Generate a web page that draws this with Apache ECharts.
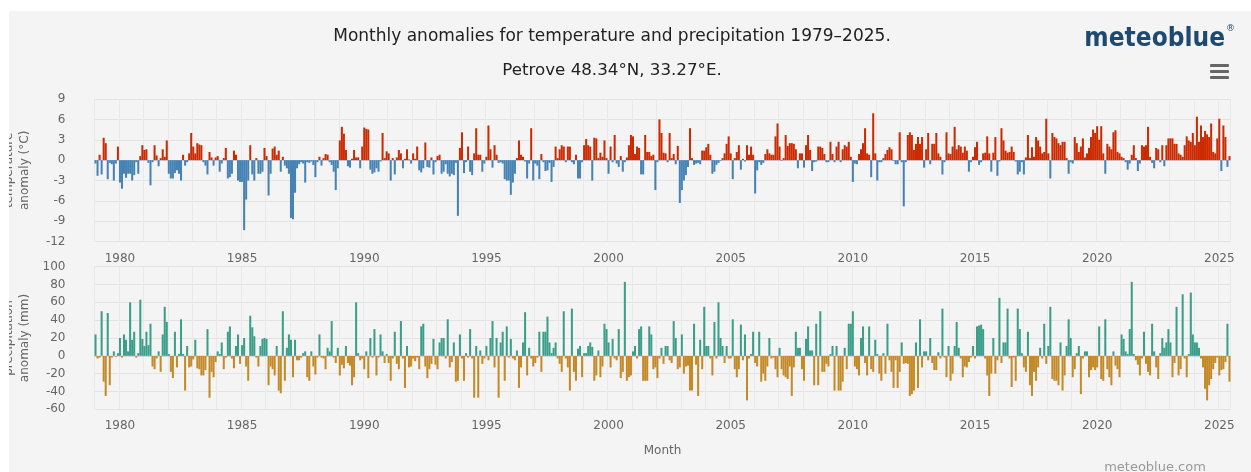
<!DOCTYPE html>
<html lang="en">
<head>
<meta charset="utf-8">
<title>Monthly anomalies for temperature and precipitation 1979-2025</title>
<script src="https://cdn.jsdelivr.net/npm/echarts@6.0.0/dist/echarts.min.js"></script>
<style>
  body { margin: 0; background: #ffffff; }
  #chart { position: absolute; left: 9px; top: 11px; width: 1242px; height: 461px; background: #f4f4f4; overflow: hidden; }
</style>
</head>
<body>
<div id="chart"></div>
<script type="text/javascript">
const startYear = 1979;

// monthly temperature anomaly (°C), one row per year
const tempAnomaly = [
  -0.5,-2.3,0.8,-2.1,3.3,2.5,-2.8,-0.4,-0.6,-3.0,-0.5,2.0,
  -3.3,-4.2,-2.0,-2.6,-2.0,-2.0,-3.0,-2.2,-0.3,-2.0,0.6,2.2,
  1.5,1.6,-0.4,-3.7,-0.3,2.2,0.7,-0.9,0.3,1.6,0.5,2.9,
  -2.0,-2.7,-2.7,-1.9,-1.5,-2.0,-3.0,0.8,-0.8,-0.3,1.0,4.0,
  2.0,1.0,2.5,2.3,2.2,-0.3,-0.8,-2.1,1.2,0.4,-0.8,0.4,
  0.6,-1.7,-0.5,0.3,1.8,-2.7,-2.5,-2.0,1.4,0.8,-3.0,-3.2,
  -3.2,-10.3,-5.8,-3.0,2.2,-2.1,-3.0,0.3,-2.0,-2.0,-1.7,1.8,
  0.6,-5.2,-2.0,1.7,2.0,0.8,1.4,-1.7,0.5,-0.8,-1.2,-2.0,
  -8.5,-8.7,-4.8,-1.2,-0.6,-0.3,-0.5,-3.3,-0.3,-0.4,-0.2,-0.7,
  -2.5,-0.3,0.5,-0.8,0.3,0.9,0.8,-0.3,-0.7,-1.7,-4.4,-1.2,
  2.9,4.9,3.9,1.5,-0.9,-1.1,0.2,1.5,0.4,0.4,-1.2,2.0,
  4.8,4.6,4.5,-1.4,-2.0,-1.8,-1.2,-1.7,-0.2,4.0,0.3,1.3,
  1.0,-3.0,0.3,-2.1,0.4,1.5,1.0,-1.2,0.2,1.6,0.1,-0.5,
  1.0,0.2,2.0,-1.5,-1.8,-1.2,2.6,-1.0,-1.1,0.4,-2.1,-0.3,
  0.6,0.8,-2.0,-1.7,-0.6,-2.0,-2.4,-2.0,-2.2,-0.4,-8.2,1.8,
  4.1,-1.9,-0.3,2.0,-1.7,-2.2,1.0,4.7,0.8,0.8,-1.7,-0.5,
  0.5,5.1,1.6,-1.1,2.2,0.8,-0.4,-0.3,-0.5,-2.8,-3.0,-3.0,
  -5.1,-3.3,-2.0,0.3,2.9,0.8,0.5,-0.2,-2.7,-0.5,4.7,-3.0,
  -0.5,-0.8,-2.8,0.9,-0.3,-1.6,-1.5,-0.4,-3.2,-1.0,2.0,0.3,
  1.6,2.2,2.0,-0.3,2.0,2.0,-0.3,-0.6,0.8,-2.7,-2.7,-0.3,
  2.2,3.1,2.2,2.0,-3.0,3.3,3.2,0.3,1.1,0.5,2.9,0.3,
  -2.0,2.0,-0.3,3.7,-0.5,-1.0,0.6,-1.7,-0.3,0.4,2.2,3.7,
  3.5,0.9,2.0,1.8,-2.1,-2.1,3.7,1.2,1.2,0.6,0.8,-4.4,
  -0.3,6.0,4.0,1.1,1.0,-0.3,4.0,0.3,0.9,-0.6,2.1,-6.3,
  -4.4,-3.0,-2.2,-1.0,4.7,0.3,-0.7,-0.5,-0.4,-0.6,1.4,1.4,
  1.9,2.4,0.8,-2.0,-1.7,-0.7,-0.4,-0.1,0.3,1.0,2.4,3.5,
  1.0,-2.8,0.3,1.2,2.2,-1.4,0.2,-0.2,2.2,0.8,2.0,0.8,
  -4.9,-1.5,-0.3,-0.7,-0.4,0.9,1.6,1.0,0.8,0.8,3.5,5.4,
  2.0,-0.1,0.3,3.7,2.1,2.5,2.5,2.4,1.6,-1.2,1.0,1.0,
  -1.1,2.2,3.7,1.5,-1.6,-0.3,-0.2,2.0,2.0,1.8,0.9,-0.3,
  -0.3,2.7,0.9,-0.3,2.0,2.7,-0.3,1.6,2.2,2.0,2.7,0.5,
  -3.2,-0.5,-0.6,0.9,1.6,2.5,4.7,1.0,0.8,-2.5,6.9,1.0,
  -3.0,-0.3,-0.3,0.3,0.9,1.5,1.9,1.6,-0.1,-0.6,-0.6,4.1,
  -0.3,-6.8,-0.3,3.7,4.1,3.7,1.5,2.4,3.4,2.4,3.4,-1.1,
  1.6,4.0,-0.6,2.4,2.4,4.0,1.0,0.5,-2.1,-0.3,4.1,1.0,
  0.9,2.0,4.9,1.6,2.2,2.0,1.1,2.0,1.4,-1.7,-0.3,0.5,
  1.9,2.7,-0.7,-0.3,1.0,1.1,3.5,1.0,-1.7,1.1,3.4,-2.3,
  -0.2,4.7,2.9,1.4,1.1,1.2,2.0,1.2,-0.2,-2.1,-1.7,-0.3,
  -2.1,0.4,3.7,0.3,1.9,0.5,3.4,2.9,2.0,1.0,1.2,6.1,
  1.0,-2.7,4.0,3.4,3.2,2.5,2.2,2.7,2.7,0.3,-2.0,-0.3,
  -0.5,3.4,2.5,1.2,2.0,3.2,0.4,1.0,1.8,3.4,4.5,4.0,
  5.0,3.0,5.0,1.0,-2.0,2.4,2.0,1.6,4.1,4.4,1.2,1.0,
  0.5,0.3,-0.3,-1.4,-0.5,0.8,2.2,0.3,-1.6,-0.5,2.2,2.0,
  2.2,4.9,0.5,-0.4,-1.2,1.8,1.6,-0.3,2.2,-0.9,2.2,3.2,
  3.2,3.2,2.4,2.4,1.0,0.8,0.5,2.2,3.5,2.9,2.7,4.0,
  2.2,6.4,2.7,5.1,3.4,4.3,3.8,3.4,5.4,1.2,1.0,3.2,
  6.1,-1.6,5.1,3.4,-1.0,0.6
];

// monthly precipitation anomaly (mm), one row per year
const precipAnomaly = [
  24,-3,-2,50,-29,-45,48,-33,-2,5,-1,3,
  20,-2,24,18,5,60,18,27,-2,3,63,19,
  11,27,12,36,-12,-15,-3,5,-18,24,55,38,
  2,-18,-25,27,-13,2,41,2,-39,11,-13,-12,
  -4,18,-14,-15,-22,-22,-16,30,-47,-18,-24,-7,
  5,2,15,-15,-2,27,33,-3,-14,11,24,-9,
  12,20,-12,-28,45,32,22,-2,-12,11,19,20,
  19,-33,-12,-15,-22,11,-39,-42,50,-28,9,24,
  18,-24,18,-5,-5,-2,3,5,-24,-28,5,-12,
  -21,-2,24,-2,-3,-15,9,5,39,-2,-8,9,
  -22,-10,-14,11,-8,-11,-33,-24,60,3,-5,-3,
  -15,5,-25,20,-2,30,-22,-2,24,5,-8,2,
  -8,-28,-3,27,-9,-15,39,-3,-36,11,-13,-12,
  -3,-6,-2,-15,33,36,-12,-25,-15,-9,19,-10,
  -15,15,20,20,-3,41,-13,-7,15,-29,-28,24,
  -3,-28,3,-2,30,-3,-47,11,-47,6,-9,-3,
  11,-5,20,39,-13,20,-47,15,27,-28,33,-2,
  19,-3,-5,6,-36,-13,15,49,-22,9,-3,-12,
  -8,-2,27,-18,27,27,44,15,3,9,15,-3,
  -9,-18,50,-3,-13,-39,53,-18,-28,8,11,-24,
  3,3,11,15,10,-28,-22,6,-24,-12,36,30,
  15,-13,19,-3,-5,30,-25,-18,83,-28,-24,-22,
  5,11,-3,30,33,-28,-28,-28,33,24,-15,-13,
  -25,-3,9,-9,11,11,-5,-8,39,20,-15,-13,
  24,-20,-12,-11,-39,-39,36,-10,-45,18,-15,55,
  11,11,-3,-22,38,-3,60,20,11,-8,11,-3,
  -3,41,-15,-24,-15,35,-5,24,-50,-3,2,27,
  -8,-12,27,-29,-20,-28,-12,20,-3,-2,-15,-24,
  9,-15,-22,-24,-26,-12,-45,-13,27,9,9,-15,
  -28,19,33,6,6,-33,36,-33,50,-18,-18,-9,
  -12,2,11,-39,11,-39,-39,-29,9,-15,36,36,
  50,-12,-15,-22,20,33,-8,-22,33,-15,-18,18,
  2,-20,-28,3,-20,36,-5,-18,-36,-5,-36,-18,
  15,-9,-8,-9,-45,-43,-39,15,-36,41,-13,5,
  5,-5,20,-8,-16,-16,4,-3,53,-2,-24,11,
  -28,-20,11,38,9,-3,-24,-12,-13,-7,-2,11,
  -3,33,34,35,30,-3,-22,-45,-20,20,-20,-5,
  65,-8,15,15,53,-3,-35,-2,-28,53,30,3,
  -13,-18,27,-33,-45,-18,-28,-13,9,-3,36,-9,
  11,55,-26,-28,-28,-33,15,-39,-22,11,41,20,
  -24,-15,3,11,-43,-3,5,5,-24,-16,-13,-16,
  -13,33,-26,-28,41,-15,-24,-33,5,-11,-15,-24,
  24,19,5,2,30,83,2,-5,-10,-22,-3,27,
  -9,-18,-22,36,5,-13,-26,3,20,9,15,30,
  15,-24,-8,55,-22,-15,69,-3,-24,2,71,24,
  15,15,9,-3,-13,-37,-50,-33,-26,-15,-8,-2,
  -22,-16,-15,-7,36,-29
];

const labelYears = [1980, 1985, 1990, 1995, 2000, 2005, 2010, 2015, 2020, 2025];

const tempColors = { pos: '#cc2a00', neg: '#4682b4' };
const precipColors = { pos: '#3a9e88', neg: '#c48a28' };
const font = 'DejaVu Sans';

// month categories 1979-01 ... built from the length of the series
const months = [];
for (let i = 0; i < tempAnomaly.length; i++) {
  const y = startYear + Math.floor(i / 12);
  months.push(y + '-' + String(i % 12 + 1).padStart(2, '0'));
}
const isYearStart = (i, v) => v.slice(5) === '01';
const isLabelYear = (i, v) => v.slice(5) === '01' && labelYears.includes(+v.slice(0, 4));

function xAxisFor(gridIndex, extra) {
  return Object.assign({
    type: 'category',
    gridIndex: gridIndex,
    data: months,
    boundaryGap: true,
    axisLine: { lineStyle: { color: '#ccd6eb', width: 1 } },
    axisTick: { interval: isLabelYear, alignWithLabel: true, length: 10, lineStyle: { color: '#ccd6eb' } },
    axisLabel: {
      interval: isLabelYear,
      formatter: v => v.slice(0, 4),
      color: '#666666', fontFamily: font, fontSize: 12, margin: 11
    },
    splitLine: { show: true, interval: isYearStart, lineStyle: { color: '#e9e9e9', width: 1 } }
  }, extra || {});
}

function yAxisFor(gridIndex, min, max, step, name) {
  return {
    type: 'value',
    gridIndex: gridIndex,
    min: min, max: max, interval: step,
    axisLine: { show: false },
    axisTick: { show: false },
    axisLabel: { color: '#666666', fontFamily: font, fontSize: 12, margin: 29 },
    splitLine: { lineStyle: { color: '#e3e3e3', width: 1 } },
    name: name,
    nameLocation: 'middle',
    nameGap: 77.5,
    nameMoveOverlap: false,
    nameTextStyle: { color: '#666666', fontFamily: font, fontSize: 12, lineHeight: 16, verticalAlign: 'middle' }
  };
}

const chart = echarts.init(document.getElementById('chart'));
chart.setOption({
  animation: false,
  backgroundColor: 'transparent',
  grid: [
    { left: 85.5, top: 88, width: 1136, height: 142.7, containLabel: false, outerBoundsMode: 'none' },
    { left: 85.5, top: 255.7, width: 1136, height: 142.6, containLabel: false, outerBoundsMode: 'none' }
  ],
  xAxis: [
    xAxisFor(0),
    xAxisFor(1, {
      name: 'Month', nameLocation: 'middle', nameGap: 36,
      nameTextStyle: { color: '#666666', fontFamily: font, fontSize: 12 }
    })
  ],
  yAxis: [
    yAxisFor(0, -12, 9, 3, 'temperature\nanomaly (°C)'),
    yAxisFor(1, -60, 100, 20, 'precipitation\nanomaly (mm)')
  ],
  series: [
    {
      type: 'bar', xAxisIndex: 0, yAxisIndex: 0,
      data: tempAnomaly,
      barCategoryGap: '0%',
      itemStyle: { color: p => p.value >= 0 ? tempColors.pos : tempColors.neg }
    },
    {
      type: 'bar', xAxisIndex: 1, yAxisIndex: 1,
      data: precipAnomaly,
      barCategoryGap: '0%',
      itemStyle: { color: p => p.value >= 0 ? precipColors.pos : precipColors.neg }
    }
  ],
  graphic: [
    {
      type: 'text', x: 603, y: 26,
      style: {
        text: 'Monthly anomalies for temperature and precipitation 1979–2025.',
        font: '17px "DejaVu Sans"',
        fill: '#222222', align: 'center', verticalAlign: 'middle'
      }
    },
    {
      type: 'text', x: 603, y: 60,
      style: {
        text: 'Petrove 48.34°N, 33.27°E.',
        font: '16.7px "DejaVu Sans"',
        fill: '#222222', align: 'center', verticalAlign: 'middle'
      }
    },
    {
      type: 'text', x: 1216, y: 28,
      style: {
        text: 'meteoblue',
        font: 'bold 26px "DejaVu Sans Condensed", "DejaVu Sans"',
        fill: '#1e4a72', align: 'right', verticalAlign: 'middle'
      }
    },
    {
      type: 'text', x: 1217, y: 18,
      style: { text: '®', font: '9px "DejaVu Sans"', fill: '#1e4a72', align: 'left', verticalAlign: 'middle' }
    },
    { type: 'rect', shape: { x: 1201, y: 53, width: 19, height: 3, r: 1 }, style: { fill: '#666666' } },
    { type: 'rect', shape: { x: 1201, y: 59, width: 19, height: 3, r: 1 }, style: { fill: '#666666' } },
    { type: 'rect', shape: { x: 1201, y: 65, width: 19, height: 3, r: 1 }, style: { fill: '#666666' } },
    {
      type: 'text', x: 1146, y: 457,
      style: { text: 'meteoblue.com', font: '13px "DejaVu Sans"', fill: '#999999', align: 'center', verticalAlign: 'middle' }
    }
  ]
});
</script>
</body>
</html>
